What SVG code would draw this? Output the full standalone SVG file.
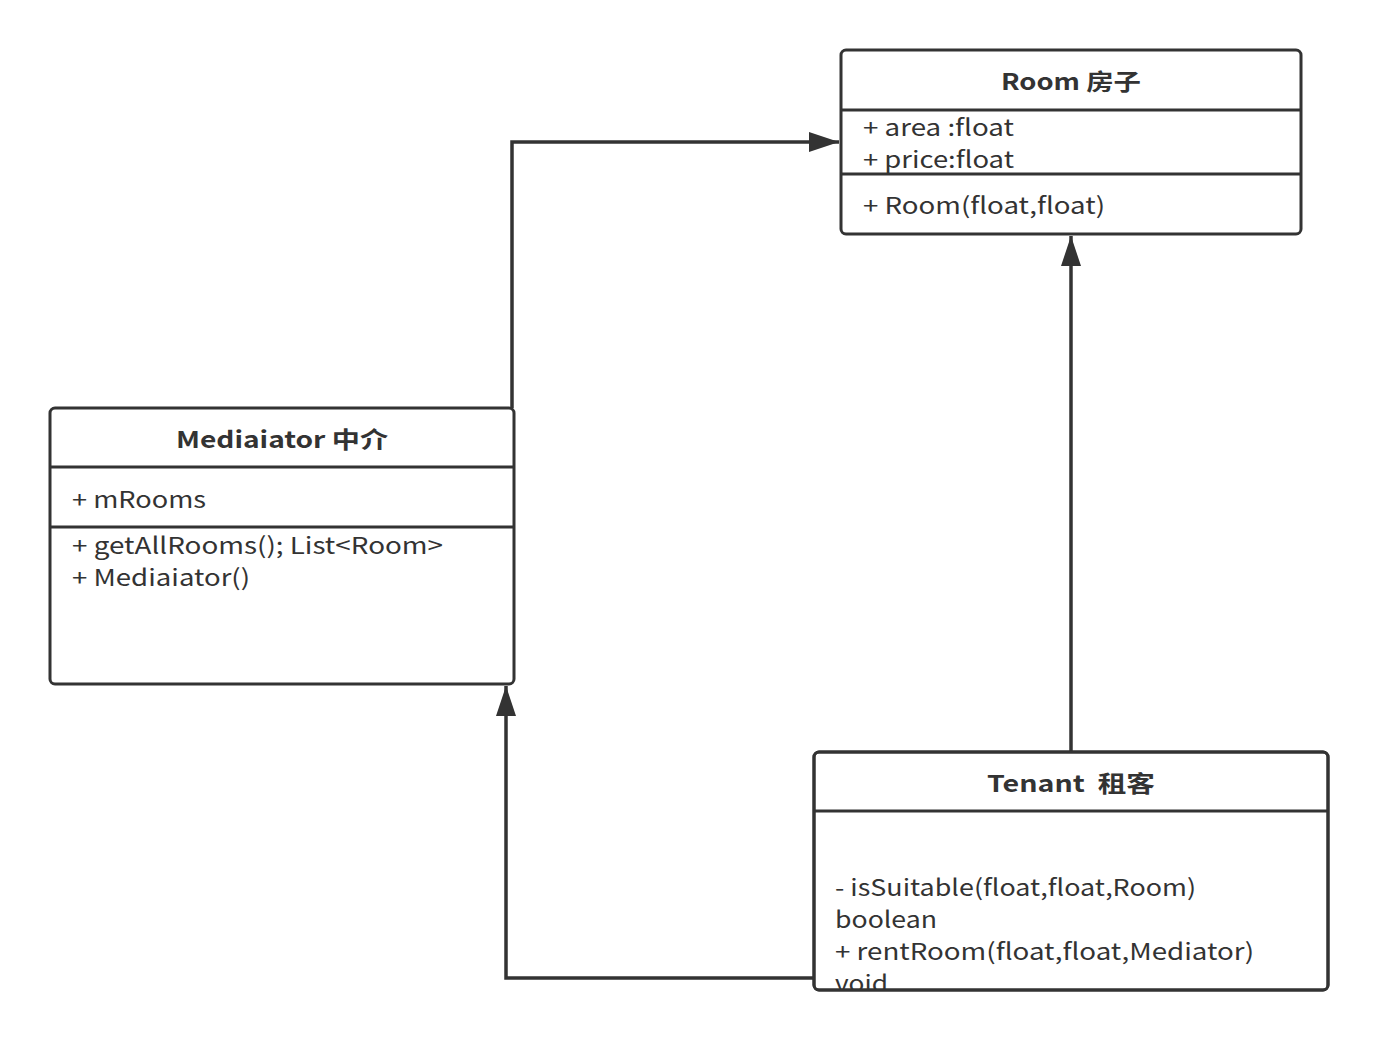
<svg xmlns="http://www.w3.org/2000/svg" width="1378" height="1040" viewBox="0 0 1378 1040">
<style>
.box{fill:#fff;stroke:#333;stroke-width:3}
.sep{stroke:#333;stroke-width:3}
.t{font-family:"Noto Sans CJK SC","Noto Sans",sans-serif;font-size:23px;fill:#333}
.b{font-weight:bold;text-anchor:middle}
.c{fill:none;stroke:#333;stroke-width:3.5}
</style>
<defs>
<marker id="arr" markerWidth="30" markerHeight="20" refX="30" refY="10" orient="auto" markerUnits="userSpaceOnUse">
<path d="M0,0 L30,10 L0,20 Z" fill="#333"/>
</marker>
<clipPath id="tclip"><rect x="815" y="753" width="512" height="236"/></clipPath>
</defs>
<rect width="1378" height="1040" fill="#fff"/>
<g id="connectors">
<path class="c" d="M512,408 L512,142 L839,142" marker-end="url(#arr)"/>
<path class="c" d="M1071,752 L1071,236" marker-end="url(#arr)"/>
<path class="c" d="M814,978 L506,978 L506,686" marker-end="url(#arr)"/>
</g>
<g id="room">
<rect class="box" x="841" y="50" width="460" height="184" rx="5"/>
<line class="sep" x1="841" y1="110" x2="1301" y2="110"/>
<line class="sep" x1="841" y1="174" x2="1301" y2="174"/>
<text class="t b" x="1071" y="90" textLength="140" lengthAdjust="spacingAndGlyphs">Room 房子</text>
<text class="t" x="863" y="136" textLength="151" lengthAdjust="spacingAndGlyphs">+ area :float</text>
<text class="t" x="863" y="168" textLength="151" lengthAdjust="spacingAndGlyphs">+ price:float</text>
<text class="t" x="863" y="214" textLength="242" lengthAdjust="spacingAndGlyphs">+ Room(float,float)</text>
</g>
<g id="mediator">
<rect class="box" x="50" y="408" width="464" height="276" rx="5"/>
<line class="sep" x1="50" y1="467" x2="514" y2="467"/>
<line class="sep" x1="50" y1="527" x2="514" y2="527"/>
<text class="t b" x="282" y="448" textLength="212" lengthAdjust="spacingAndGlyphs">Mediaiator 中介</text>
<text class="t" x="72" y="508" textLength="134" lengthAdjust="spacingAndGlyphs">+ mRooms</text>
<text class="t" x="72" y="554" textLength="371" lengthAdjust="spacingAndGlyphs">+ getAllRooms(); List&lt;Room&gt;</text>
<text class="t" x="72" y="586" textLength="178" lengthAdjust="spacingAndGlyphs">+ Mediaiator()</text>
</g>
<g id="tenant">
<rect class="box" x="814" y="752" width="514" height="238" rx="5"/>
<line class="sep" x1="814" y1="811" x2="1328" y2="811"/>
<text class="t b" x="1071" y="792" textLength="168" lengthAdjust="spacingAndGlyphs">Tenant &#160;租客</text>
<g clip-path="url(#tclip)">
<text class="t" x="835" y="896" textLength="361" lengthAdjust="spacingAndGlyphs">- isSuitable(float,float,Room)</text>
<text class="t" x="835" y="928" textLength="102" lengthAdjust="spacingAndGlyphs">boolean</text>
<text class="t" x="835" y="960" textLength="419" lengthAdjust="spacingAndGlyphs">+ rentRoom(float,float,Mediator)</text>
<text class="t" x="835" y="992" textLength="53" lengthAdjust="spacingAndGlyphs">void</text>
</g>
<rect x="814" y="752" width="514" height="238" rx="5" fill="none" stroke="#333" stroke-width="3"/>
</g>
</svg>
